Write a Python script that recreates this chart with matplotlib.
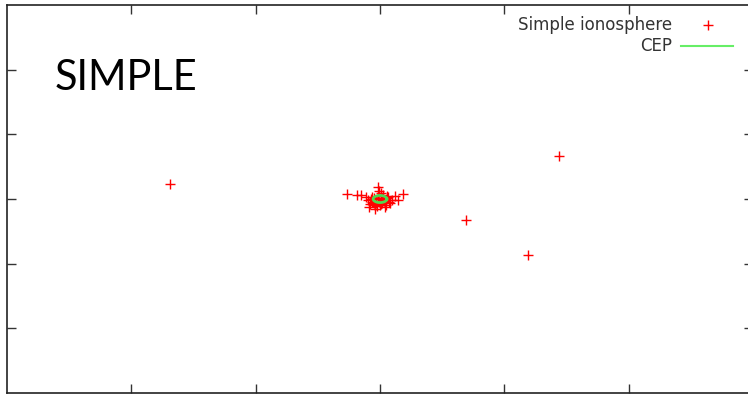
import matplotlib

matplotlib.use("Agg")
import matplotlib.pyplot as plt
import numpy as np

# position errors (simple ionosphere model), arbitrary units
err_x = [-1.69, 1.44, 0.69, 1.19,
         -0.266, -0.185, -0.153, -0.113, -0.016, -0.008, -0.097, -0.065, -0.040,
         0.040, 0.081, 0.121, 0.185, 0.145, 0.024, -0.081, -0.032, 0.016, 0.048,
         -0.048, 0.065, -0.016, 0.008, -0.065, 0.097, -0.089, 0.000,
         -0.030, 0.030, -0.010, 0.020, -0.050, 0.055, 0.010, -0.020, 0.035, -0.070,
         0.070, -0.040, 0.005, 0.045, -0.025, 0.060]
err_y = [0.23, 0.66, -0.32, -0.87,
         0.077, 0.062, 0.062, 0.031, 0.185, 0.124, -0.015, -0.046, -0.155,
         -0.124, -0.062, 0.046, 0.077, -0.015, 0.062, -0.077, -0.062, -0.062, -0.015,
         0.015, 0.031, 0.046, 0.000, 0.031, -0.015, -0.124, -0.093,
         -0.030, -0.030, -0.040, 0.020, -0.060, 0.010, -0.080, 0.010, -0.020, 0.000,
         -0.040, -0.100, 0.090, -0.090, -0.110, 0.040]
cep_radius = 0.055
x_ticks = [-2, -1, 0, 1, 2]
y_ticks = [-2, -1, 0, 1, 2]

RED = "#ff0000"
GREEN = "#4fd84f"

fig = plt.figure(figsize=(7.48, 3.95), dpi=100)
# axes run slightly past the right edge, as in the cropped original
ax = fig.add_axes([7 / 748, 2 / 395, 746 / 748, 388 / 395])

ax.plot(err_x, err_y, ls="none", marker="+", ms=7.5, mew=1.0, color=RED)
t = np.linspace(0, 2 * np.pi, 100)
ax.plot(cep_radius * np.cos(t), cep_radius * np.sin(t), color=GREEN, lw=2.0)

ax.set_xlim(-3, 3)
ax.set_ylim(-3, 3)
ax.set_xticks(x_ticks)
ax.set_yticks(y_ticks)
ax.tick_params(direction="in", length=6.5, width=1.0, color="#333333",
               top=True, right=True, labelbottom=False, labelleft=False)
for s in ax.spines.values():
    s.set_linewidth(1.2)
    s.set_color("#222222")
ax.spines["right"].set_visible(False)

fig.text(55 / 748, 1 - 78 / 395, "SIMPLE", fontsize=30, family="Lato",
         va="center", ha="left", color="black")

# gnuplot-style key
fig.text(672 / 748, 1 - 25 / 395, "Simple ionosphere", ha="right", va="center",
         fontsize=12, color="#333333")
fig.text(672 / 748, 1 - 46 / 395, "CEP", ha="right", va="center",
         fontsize=12, color="#333333")
fig.lines.append(plt.Line2D([708 / 748], [1 - 25 / 395], transform=fig.transFigure,
                            marker="+", ms=7, mew=1.0, color=RED, ls="none"))
fig.lines.append(plt.Line2D([681 / 748, 733 / 748], [1 - 46 / 395] * 2,
                            transform=fig.transFigure, color="#66ee66", lw=1.5))

fig.savefig("out.png", dpi=100)
